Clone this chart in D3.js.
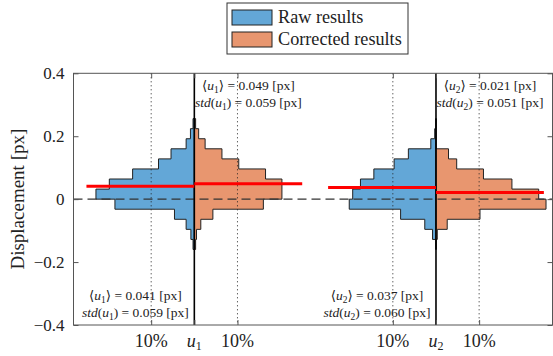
<!DOCTYPE html>
<head>
  <meta charset="utf-8">
  <script src="https://cdn.jsdelivr.net/npm/d3@7"></script>
  <style>
    body { margin: 0; background: #fff; }
    svg text { font-family: "Liberation Serif", "Times New Roman", "DejaVu Serif", serif !important; }
  </style>
</head>
<body>
  <div id="chart"></div>
  <script>

  // bins (lower edges), 0.032 px wide, top to bottom
  var binWidth = 0.032
  var binLow = [0.224, 0.192, 0.16, 0.128, 0.096, 0.064, 0.032, 0, -0.032, -0.064, -0.096, -0.128, -0.16]

  // share of samples per bin [%]
  var rawU1 = [0.3, 0.9, 1.9, 5.4, 8.3, 14.3, 19.7, 22.8, 18.4, 4.6, 1.9, 0.8, 0.3]
  var corU1 = [0.3, 1.0, 2.5, 6.4, 10.3, 16.5, 20.3, 20.3, 16.0, 4.3, 1.5, 0.5, 0.3]
  var rawU2 = [0, 0.3, 1.2, 6.4, 9.7, 14.4, 17.5, 19.3, 20.1, 8.2, 2.6, 0.8, 0]
  var corU2 = [0, 0, 0, 2.9, 4.8, 11.0, 17.6, 23.8, 25.5, 10.2, 2.6, 0.3, 0]

  var components = ["1", "2"]
  var rawMean = [0.041, 0.037], rawStd = [0.059, 0.060]
  var corMean = [0.049, 0.021], corStd = [0.059, 0.051]

  var centers = [28, 84]
  var tickPos = [18, 28, 38, 74, 84, 94]
  var tickLabels = ["10%", "u1", "10%", "10%", "u2", "10%"]
  var yTicks = [0.4, 0.2, 0, -0.2, -0.4]
  var legendLabels = ["Raw results", "Corrected results"]

  var blue = "#63a7d7", orange = "#e8966f"

  var width = 553, height = 356
  var x = d3.scaleLinear().domain([0, 111]).range([73.5, 552.5])
  var y = d3.scaleLinear().domain([-0.4, 0.4]).range([325, 73.3])

  var svg = d3.select("#chart").append("svg")
      .attr("width", width)
      .attr("height", height)

  var line = d3.line().x(function(d) { return x(d[0]) }).y(function(d) { return y(d[1]) })

  // stair outline of one half histogram
  function halfHist(c, vals, dir) {
    var pts = [[c, binLow[0] + binWidth]]
    vals.forEach(function(v, i) {
      pts.push([c + dir*v, binLow[i] + binWidth])
      pts.push([c + dir*v, binLow[i]])
    })
    pts.push([c, binLow[binLow.length-1]])
    return line(pts) + "Z"
  }

  var hists = [[rawU1, corU1], [rawU2, corU2]]
  centers.forEach(function(c, k) {
    svg.append("path").attr("d", halfHist(c, hists[k][0], -1))
      .attr("fill", blue).attr("stroke", "#222").attr("stroke-width", 1)
    svg.append("path").attr("d", halfHist(c, hists[k][1], 1))
      .attr("fill", orange).attr("stroke", "#222").attr("stroke-width", 1)
  })

  // dotted 10% guides
  svg.selectAll(".guide")
      .data(tickPos.filter(function(d, i) { return i % 3 != 1 }))
    .enter().append("line")
      .attr("class", "guide")
      .attr("x1", function(d) { return x(d) }).attr("x2", function(d) { return x(d) })
      .attr("y1", y(0.4)).attr("y2", y(-0.4))
      .attr("stroke", "#222").attr("stroke-width", 1)
      .attr("stroke-dasharray", "1,3")

  // zero line
  svg.append("line")
      .attr("x1", x(0)).attr("x2", x(111))
      .attr("y1", y(0)).attr("y2", y(0))
      .attr("stroke", "#333").attr("stroke-width", 1.2)
      .attr("stroke-dasharray", "9,5")

  // center lines
  svg.selectAll(".center")
      .data(centers)
    .enter().append("line")
      .attr("x1", function(d) { return x(d) }).attr("x2", function(d) { return x(d) })
      .attr("y1", y(0.4)).attr("y2", y(-0.4))
      .attr("stroke", "#000").attr("stroke-width", 1.6)

  // mean lines
  centers.forEach(function(c, k) {
    svg.append("line")
      .attr("x1", x(c - 25)).attr("x2", x(c))
      .attr("y1", y(rawMean[k])).attr("y2", y(rawMean[k]))
      .attr("stroke", "#ff0000").attr("stroke-width", 3)
    svg.append("line")
      .attr("x1", x(c)).attr("x2", x(c + 25))
      .attr("y1", y(corMean[k])).attr("y2", y(corMean[k]))
      .attr("stroke", "#ff0000").attr("stroke-width", 3)
  })

  // box and ticks
  svg.append("rect")
      .attr("x", x(0)).attr("y", y(0.4))
      .attr("width", x(111) - x(0)).attr("height", y(-0.4) - y(0.4))
      .attr("fill", "none").attr("stroke", "#555").attr("stroke-width", 1)

  svg.append("g")
      .attr("transform", "translate(" + x(0) + ",0)")
      .call(d3.axisLeft(y).tickValues(yTicks).tickSizeInner(-5).tickSizeOuter(0).tickPadding(9)
        .tickFormat(function(d) { return d == 0 ? "0" : d3.format(".1f")(d) }))
      .call(function(g) {
        g.select(".domain").remove()
        g.selectAll(".tick line").attr("stroke", "#555")
        g.selectAll(".tick text").attr("font-size", 17).attr("fill", "#222")
      })

  svg.append("g")
      .attr("transform", "translate(" + x(111) + ",0)")
      .call(d3.axisRight(y).tickValues(yTicks).tickSizeInner(-5).tickSizeOuter(0).tickFormat(""))
      .call(function(g) {
        g.select(".domain").remove()
        g.selectAll(".tick line").attr("stroke", "#555")
      })

  svg.append("g")
      .attr("transform", "translate(0," + y(-0.4) + ")")
      .call(d3.axisBottom(x).tickValues(tickPos).tickSizeInner(-5).tickSizeOuter(0).tickFormat(""))
      .call(function(g) {
        g.select(".domain").remove()
        g.selectAll(".tick line").attr("stroke", "#555")
      })

  svg.append("g")
      .attr("transform", "translate(0," + y(0.4) + ")")
      .call(d3.axisTop(x).tickValues(tickPos).tickSizeInner(-5).tickSizeOuter(0).tickFormat(""))
      .call(function(g) {
        g.select(".domain").remove()
        g.selectAll(".tick line").attr("stroke", "#555")
      })

  // x tick labels (with subscripts)
  var xl = svg.selectAll(".xlab")
      .data(tickLabels)
    .enter().append("text")
      .attr("class", "xlab")
      .attr("x", function(d, i) { return x(tickPos[i]) })
      .attr("y", 347)
      .attr("text-anchor", "middle")
      .attr("font-size", 18)
      .attr("fill", "#222")
  xl.each(function(d) {
    var t = d3.select(this)
    if (d[0] == "u") {
      t.append("tspan").attr("font-style", "italic").text("u")
      t.append("tspan").attr("font-size", 12).attr("dy", 3).text(d[1])
    } else {
      t.text(d)
    }
  })

  // y label
  svg.append("text")
      .attr("transform", "translate(24," + y(0) + ") rotate(-90)")
      .attr("text-anchor", "middle")
      .attr("font-size", 19)
      .attr("fill", "#222")
      .text("Displacement [px]")

  // annotations
  function annot(cx, yb, comp, mean, std) {
    var t1 = svg.append("text").attr("x", cx).attr("y", yb)
        .attr("text-anchor", "middle").attr("font-size", 13.5).attr("fill", "#222")
    t1.append("tspan").text("\u27e8")
    t1.append("tspan").attr("font-style", "italic").text("u")
    t1.append("tspan").attr("font-size", 9.5).attr("dy", 2.5).text(comp)
    t1.append("tspan").attr("dy", -2.5).text("\u27e9 = " + d3.format(".3f")(mean) + " [px]")
    var t2 = svg.append("text").attr("x", cx).attr("y", yb + 17)
        .attr("text-anchor", "middle").attr("font-size", 13.5).attr("fill", "#222")
    t2.append("tspan").attr("font-style", "italic").text("std")
    t2.append("tspan").text("(")
    t2.append("tspan").attr("font-style", "italic").text("u")
    t2.append("tspan").attr("font-size", 9.5).attr("dy", 2.5).text(comp)
    t2.append("tspan").attr("dy", -2.5).text(") = " + d3.format(".3f")(std) + " [px]")
  }
  centers.forEach(function(c, k) {
    annot(x(c) - 59, 300, components[k], rawMean[k], rawStd[k])
    annot(x(c) + 54, 90, components[k], corMean[k], corStd[k])
  })

  // legend
  var lg = svg.append("g")
  lg.append("rect")
      .attr("x", 227).attr("y", 3).attr("width", 181).attr("height", 51)
      .attr("fill", "#fff").attr("stroke", "#333").attr("stroke-width", 1)
  var items = lg.selectAll(".item")
      .data(legendLabels)
    .enter().append("g")
      .attr("class", "item")
      .attr("transform", function(d, i) { return "translate(232," + (10 + i*22) + ")" })
  items.append("rect")
      .attr("width", 40).attr("height", 15)
      .attr("fill", function(d, i) { return i == 0 ? blue : orange })
      .attr("stroke", "#222").attr("stroke-width", 1)
  items.append("text")
      .attr("x", 46).attr("y", 13)
      .attr("font-size", 18.2)
      .attr("fill", "#222")
      .text(function(d) { return d })

  </script>
</body>
